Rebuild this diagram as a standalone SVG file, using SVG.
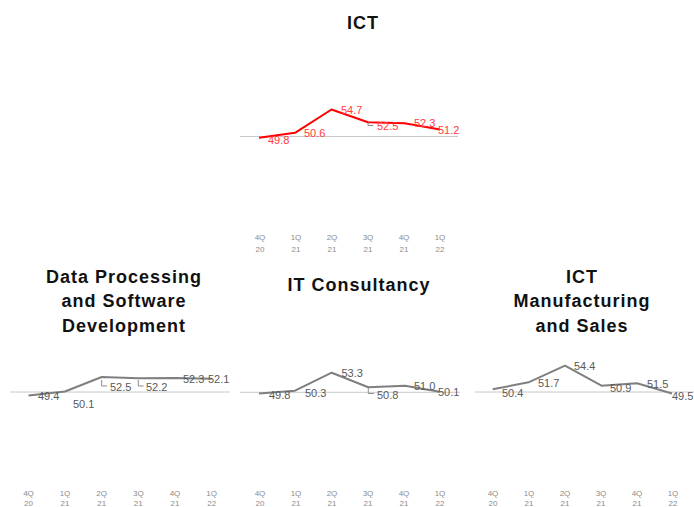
<svg xmlns="http://www.w3.org/2000/svg" width="694" height="507" viewBox="0 0 694 507">
<style>
.title{font-family:"Liberation Sans",Arial,sans-serif;font-weight:bold;font-size:18px;letter-spacing:1px;fill:#111;text-anchor:middle}
.cat{font-family:"Liberation Sans",Arial,sans-serif;font-size:8px;fill:#8c8c8c;text-anchor:middle}
.lbl{font-family:"Liberation Sans",Arial,sans-serif;font-size:11px;fill:#595959}
.lblr{font-family:"Liberation Sans",Arial,sans-serif;font-size:11px;fill:#ff3b3b}
.axis{stroke:#c8c8c8;stroke-width:1;fill:none}
.line{stroke:#7f7f7f;stroke-width:2;fill:none;stroke-linejoin:round}
.liner{stroke:#ff0000;stroke-width:2;fill:none;stroke-linejoin:round}
.lead{stroke:#8c8c8c;stroke-width:1;fill:none}
</style>
<rect width="694" height="507" fill="#fff"/>

<g id="chart-ict">
<text class="title" x="363" y="29">ICT</text>
<line class="axis" x1="240" y1="136.5" x2="458" y2="136.5"/>
<polyline class="liner" points="259,137.7 295,132.8 331.5,109.5 368,122.2 404.5,123.2 440,129.5"/>
<path class="lead" d="M368,122.5 V125.5 H373"/>
<text class="lblr" x="268" y="144">49.8</text>
<text class="lblr" x="304" y="137">50.6</text>
<text class="lblr" x="341" y="114">54.7</text>
<text class="lblr" x="377" y="130">52.5</text>
<text class="lblr" x="414" y="127">52.3</text>
<text class="lblr" x="438" y="134">51.2</text>
<g class="cat">
<text x="260" y="240">4Q</text><text x="260" y="252">20</text>
<text x="296" y="240">1Q</text><text x="296" y="252">21</text>
<text x="332" y="240">2Q</text><text x="332" y="252">21</text>
<text x="368" y="240">3Q</text><text x="368" y="252">21</text>
<text x="404" y="240">4Q</text><text x="404" y="252">21</text>
<text x="440" y="240">1Q</text><text x="440" y="252">22</text>
</g>
</g>

<g id="chart-data-processing">
<text class="title" x="124" y="283">Data Processing</text>
<text class="title" x="124" y="307">and Software</text>
<text class="title" x="124" y="332">Development</text>
<line class="axis" x1="10" y1="392" x2="230" y2="392"/>
<polyline class="line" points="28.5,395.5 65,391.5 101.7,377 138.3,378.2 175,378 211.7,378.8"/>
<path class="lead" d="M101.7,380 V386 H107"/>
<path class="lead" d="M138.3,380 V386 H143.5"/>
<text class="lbl" x="38" y="400">49.4</text>
<text class="lbl" x="73" y="408">50.1</text>
<text class="lbl" x="110" y="391">52.5</text>
<text class="lbl" x="146" y="391">52.2</text>
<text class="lbl" x="183" y="383">52.3</text>
<text class="lbl" x="208" y="383">52.1</text>
<g class="cat">
<text x="28.5" y="496">4Q</text><text x="28.5" y="506">20</text>
<text x="65" y="496">1Q</text><text x="65" y="506">21</text>
<text x="101.7" y="496">2Q</text><text x="101.7" y="506">21</text>
<text x="138.3" y="496">3Q</text><text x="138.3" y="506">21</text>
<text x="175" y="496">4Q</text><text x="175" y="506">21</text>
<text x="211.7" y="496">1Q</text><text x="211.7" y="506">22</text>
</g>
</g>

<g id="chart-it-consultancy">
<text class="title" x="359" y="291">IT Consultancy</text>
<line class="axis" x1="240" y1="392.3" x2="460" y2="392.3"/>
<polyline class="line" points="259,393.5 295,390.7 331.7,372.7 368.3,387.3 405,385.7 439.5,391.7"/>
<path class="lead" d="M368.3,388 V393.5 H374"/>
<text class="lbl" x="269" y="398.5">49.8</text>
<text class="lbl" x="305" y="396.5">50.3</text>
<text class="lbl" x="341.5" y="377">53.3</text>
<text class="lbl" x="377" y="398.5">50.8</text>
<text class="lbl" x="414" y="390">51.0</text>
<text class="lbl" x="438" y="396">50.1</text>
<g class="cat">
<text x="260" y="496">4Q</text><text x="260" y="506">20</text>
<text x="296" y="496">1Q</text><text x="296" y="506">21</text>
<text x="332" y="496">2Q</text><text x="332" y="506">21</text>
<text x="368" y="496">3Q</text><text x="368" y="506">21</text>
<text x="404" y="496">4Q</text><text x="404" y="506">21</text>
<text x="440" y="496">1Q</text><text x="440" y="506">22</text>
</g>
</g>

<g id="chart-ict-manufacturing">
<text class="title" x="582" y="283">ICT</text>
<text class="title" x="582" y="307">Manufacturing</text>
<text class="title" x="582" y="332">and Sales</text>
<line class="axis" x1="475" y1="392" x2="694" y2="392"/>
<polyline class="line" points="492.7,389.3 528.5,382.3 565,365.7 601.5,385.7 637,383.3 672,393.5"/>
<text class="lbl" x="502" y="397">50.4</text>
<text class="lbl" x="538" y="387">51.7</text>
<text class="lbl" x="574" y="370">54.4</text>
<text class="lbl" x="610" y="391.5">50.9</text>
<text class="lbl" x="647" y="387.5">51.5</text>
<text class="lbl" x="672" y="400">49.5</text>
<g class="cat">
<text x="493" y="496">4Q</text><text x="493" y="506">20</text>
<text x="529" y="496">1Q</text><text x="529" y="506">21</text>
<text x="565" y="496">2Q</text><text x="565" y="506">21</text>
<text x="601" y="496">3Q</text><text x="601" y="506">21</text>
<text x="637" y="496">4Q</text><text x="637" y="506">21</text>
<text x="673" y="496">1Q</text><text x="673" y="506">22</text>
</g>
</g>
</svg>
